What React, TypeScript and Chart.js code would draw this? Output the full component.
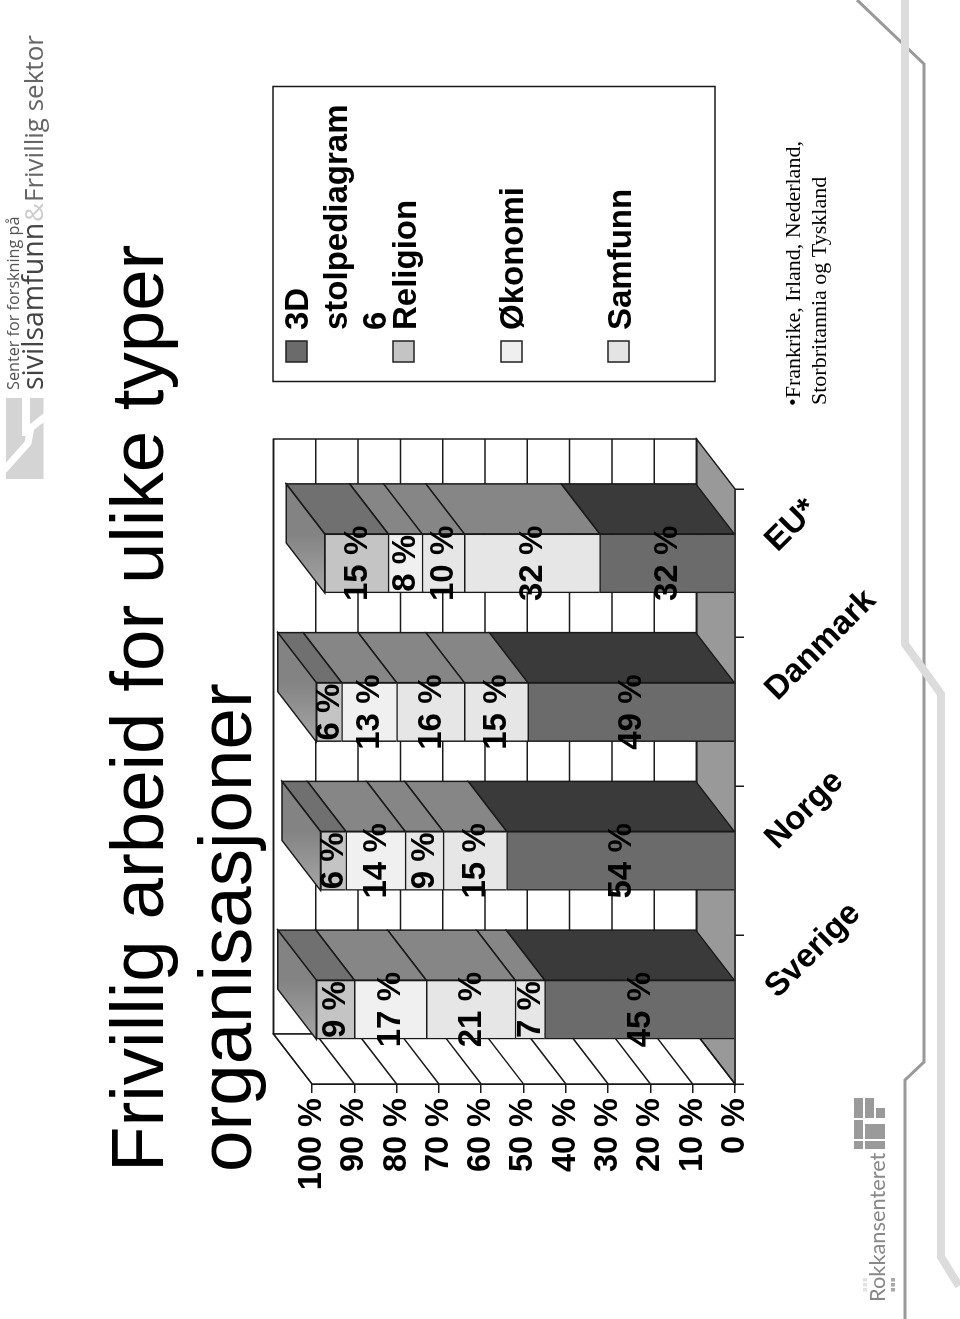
import React, { useEffect, useRef } from "react";
import { Chart, registerables } from "chart.js";

Chart.register(...registerables);

const categories = ["Sverige", "Norge", "Danmark", "EU*"];
const seriesDark = [45, 54, 49, 32];
const seriesFifth = [7, 15, 15, 32];
const seriesSamfunn = [21, 9, 16, 10];
const seriesOkonomi = [17, 14, 13, 8];
const seriesReligion = [9, 6, 6, 15];
const titleLines = ["Frivillig arbeid for ulike typer", "organisasjoner"];
const noteLines = ["•Frankrike, Irland, Nederland,", "Storbritannia og Tyskland"];
const legendEntries = [
  { lines: ["3D", "stolpediagram", "6"], color: "#6b6b6b" },
  { lines: ["Religion"], color: "#c4c4c4" },
  { lines: ["Økonomi"], color: "#efefef" },
  { lines: ["Samfunn"], color: "#e4e4e4" },
];

const W = 1319;
const H = 960;
const FONT = '"Liberation Sans", Arial, sans-serif';
const DX = 50;
const DY = 38.5;
const LINE = "#1a1a1a";
const LW = 1.5;

type Ctx = CanvasRenderingContext2D;

function poly(ctx: Ctx, pts: number[][], fill: string | CanvasGradient, stroke = LINE) {
  ctx.beginPath();
  pts.forEach((p, i) => (i ? ctx.lineTo(p[0], p[1]) : ctx.moveTo(p[0], p[1])));
  ctx.closePath();
  ctx.fillStyle = fill;
  ctx.fill();
  if (stroke !== "none") {
    ctx.strokeStyle = stroke;
    ctx.lineWidth = LW;
    ctx.stroke();
  }
}

function path(ctx: Ctx, pts: number[][], color: string, width: number) {
  ctx.beginPath();
  pts.forEach((p, i) => (i ? ctx.lineTo(p[0], p[1]) : ctx.moveTo(p[0], p[1])));
  ctx.strokeStyle = color;
  ctx.lineWidth = width;
  ctx.lineJoin = "miter";
  ctx.stroke();
}

// picture coordinates -> slide coordinates
const P = (px: number, py: number) => [W - py, px];

const decoPlugin = {
  id: "deco",
  beforeDraw(chart: any) {
    const ctx: Ctx = chart.ctx;
    ctx.save();
    ctx.fillStyle = "#fff";
    ctx.fillRect(0, 0, W, H);

    // slide decoration lines
    path(ctx, [P(857, 0), P(924, 64), P(924, 1062), P(905, 1080), P(905, 1319)], "#999999", 3);
    path(ctx, [P(905, 0), P(905, 644), P(941, 694), P(941, 1257), P(959, 1286)], "#dcdcdc", 8);

    // upper logo
    poly(ctx, [P(6, 398), P(43.5, 398), P(43.5, 479), P(6, 479)], "#d4d4d4", "none");
    path(ctx, [P(26, 396), P(26, 436)], "#fff", 8);
    path(ctx, [P(46, 416), P(30.7, 428), P(28, 443), P(4, 470)], "#fff", 7);

    // ISF logo
    [
      [854, 1098, 9, 20, "#9a9a9a"], [865, 1098, 9, 20, "#9a9a9a"], [876, 1108, 9, 10, "#9a9a9a"],
      [854, 1120, 9, 19, "#9a9a9a"], [865, 1124, 20, 15, "#9a9a9a"],
      [854, 1141, 9, 8, "#9a9a9a"], [865, 1141, 20, 8, "#9a9a9a"],
      [891, 1278, 4, 3.5, "#a8a8a8"], [891, 1283, 4, 3.5, "#a8a8a8"], [891, 1288, 4, 3.5, "#a8a8a8"],
      [863, 1278, 4, 3.5, "#e2e2e2"], [863, 1283, 4, 3.5, "#e2e2e2"], [863, 1288, 4, 3.5, "#e2e2e2"],
    ].forEach(([px, py, w, h, c]: any) => {
      ctx.fillStyle = c;
      const a = P(px, py + h);
      ctx.fillRect(a[0], a[1], h, w);
    });

    ctx.textBaseline = "alphabetic";
    ctx.textAlign = "left";
    ctx.fillStyle = "#555";
    ctx.font = '16.2px "Open Sans", sans-serif';
    ctx.fillText("Senter for forskning på", W - 390, 19);
    ctx.font = '28.5px "Open Sans", sans-serif';
    ctx.fillStyle = "#444";
    ctx.fillText("sivilsamfunn", W - 390, 43);
    ctx.fillStyle = "#ccc";
    ctx.font = '26px "Open Sans", sans-serif';
    ctx.fillText("&", W - 222, 43);
    ctx.fillStyle = "#666";
    ctx.fillText("Frivillig sektor", W - 202, 43);
    ctx.fillStyle = "#888";
    ctx.font = '21.8px "Lato", sans-serif';
    ctx.fillText("Rokkansenteret", W - 1302, 885);

    // title
    ctx.fillStyle = "#000";
    ctx.font = `74.5px ${FONT}`;
    ctx.fillText(titleLines[0], 147, 163);
    ctx.fillText(titleLines[1], 147, 251);

    // note
    ctx.font = '22px "Liberation Serif", serif';
    ctx.fillText(noteLines[0], 913, 800);
    ctx.fillText(noteLines[1], 914, 826);

    // legend
    const lx = W - 381.5;
    ctx.strokeStyle = LINE;
    ctx.lineWidth = LW;
    ctx.strokeRect(lx, 273, 295, 442);
    const swatchY = [286, 393, 501, 608];
    const baselines = [[308, 347, 386], [415.5], [523], [630.5]];
    legendEntries.forEach((e, i) => {
      ctx.fillStyle = e.color;
      ctx.fillRect(W - 362, swatchY[i], 21, 21);
      ctx.strokeStyle = "#222";
      ctx.strokeRect(W - 362, swatchY[i], 21, 21);
      ctx.fillStyle = "#000";
      ctx.font = `bold 33px ${FONT}`;
      e.lines.forEach((t, k) => ctx.fillText(t, W - 330, baselines[i][k]));
    });
    ctx.restore();
  },
  beforeDatasetsDraw(chart: any) {
    const ctx: Ctx = chart.ctx;
    const { left, right, top, bottom } = chart.chartArea;
    const yS = chart.scales.y;
    ctx.save();
    // floor
    poly(ctx, [[left, bottom], [right, bottom], [right + DX, bottom - DY], [left + DX, bottom - DY]], "#999999");
    // back wall
    poly(ctx, [[left + DX, top - DY], [right + DX, top - DY], [right + DX, bottom - DY], [left + DX, bottom - DY]], "#ffffff");
    // side wall
    poly(ctx, [[left, top], [left + DX, top - DY], [left + DX, bottom - DY], [left, bottom]], "#ffffff");
    // grid on walls
    yS.ticks.forEach((t: any) => {
      const y = yS.getPixelForValue(t.value);
      path(ctx, [[left, y], [left + DX, y - DY], [right + DX, y - DY]], LINE, LW);
    });
    // bar side and top faces
    const n = chart.data.datasets.length;
    categories.forEach((_, j) => {
      for (let i = 0; i < n; i++) {
        const el = chart.getDatasetMeta(i).data[j];
        const r = el.x + el.width / 2;
        const l = el.x - el.width / 2;
        const side = i === 0 ? "#3a3a3a" : i === n - 1 ? "#707070" : "#868686";
        poly(ctx, [[r, el.y], [r + DX, el.y - DY], [r + DX, el.base - DY], [r, el.base]], side);
        if (i === n - 1) {
          const g = ctx.createLinearGradient(l, 0, r, 0);
          g.addColorStop(0, "#a6a6a6");
          g.addColorStop(1, "#838383");
          poly(ctx, [[l, el.y], [r, el.y], [r + DX, el.y - DY], [l + DX, el.y - DY]], g);
        }
      }
    });
    ctx.restore();
  },
  afterDatasetsDraw(chart: any) {
    const ctx: Ctx = chart.ctx;
    ctx.save();
    ctx.fillStyle = "#000";
    ctx.font = `bold 33px ${FONT}`;
    ctx.textAlign = "center";
    ctx.textBaseline = "middle";
    chart.data.datasets.forEach((ds: any, i: number) => {
      chart.getDatasetMeta(i).data.forEach((el: any, j: number) => {
        ctx.fillText(`${ds.data[j]} %`, el.x, (el.y + el.base) / 2 + 1);
      });
    });
    // category labels, tilted
    const xS = chart.scales.x;
    ctx.textAlign = "left";
    categories.forEach((c, j) => {
      const x = xS.getPixelForValue(j);
      ctx.save();
      ctx.translate(x + 17, chart.chartArea.bottom + 36);
      ctx.rotate(Math.PI / 4);
      ctx.fillText(c, 0, 0);
      ctx.restore();
    });
    ctx.restore();
  },
};

export default function App() {
  const ref = useRef<HTMLCanvasElement>(null);
  useEffect(() => {
    document.body.style.margin = "0";
    const mk = (label: string, data: number[], color: string) => ({
      label,
      data,
      backgroundColor: color,
      borderColor: LINE,
      borderWidth: LW,
      barThickness: 59,
      stack: "a",
    });
    const chart = new Chart(ref.current as HTMLCanvasElement, {
      type: "bar",
      data: {
        labels: categories,
        datasets: [
          mk("3D stolpediagram 6", seriesDark, "#6b6b6b"),
          mk("", seriesFifth, "#e6e6e6"),
          mk("Samfunn", seriesSamfunn, "#e6e6e6"),
          mk("Økonomi", seriesOkonomi, "#f0f0f0"),
          mk("Religion", seriesReligion, "#c4c4c4"),
        ],
      },
      options: {
        responsive: false,
        animation: false,
        devicePixelRatio: 1,
        layout: { padding: { left: 0, right: W - 830, top: 312, bottom: 0 } },
        plugins: { legend: { display: false }, tooltip: { enabled: false }, title: { display: false } },
        scales: {
          x: {
            stacked: true,
            afterFit: (s: any) => { s.height = H - 735; },
            grid: { offset: true, drawOnChartArea: false, drawTicks: true, tickLength: 9, color: LINE, lineWidth: LW },
            border: { color: LINE, width: LW },
            ticks: { display: false },
          },
          y: {
            stacked: true,
            min: 0,
            max: 100,
            afterFit: (s: any) => { s.width = 235; },
            grid: { drawOnChartArea: false, drawTicks: true, tickLength: 9, color: LINE, lineWidth: LW },
            border: { color: LINE, width: LW },
            ticks: {
              stepSize: 10,
              padding: 5,
              color: "#000",
              font: { family: "Liberation Sans", size: 32.5, weight: "bold" },
              callback: (v: any) => `${v} %`,
            },
          },
        },
      },
      plugins: [decoPlugin],
    } as any);
    return () => chart.destroy();
  }, []);
  return (
    <div style={{ position: "fixed", left: 0, top: 0, width: 960, height: 1319, overflow: "hidden", background: "#fff" }}>
      <div
        style={{
          position: "absolute",
          left: 0,
          top: 0,
          width: W,
          height: H,
          transformOrigin: "top left",
          transform: `translateY(${W}px) rotate(-90deg)`,
        }}
      >
        <canvas ref={ref} width={W} height={H} style={{ display: "block", width: W, height: H }} />
      </div>
    </div>
  );
}
